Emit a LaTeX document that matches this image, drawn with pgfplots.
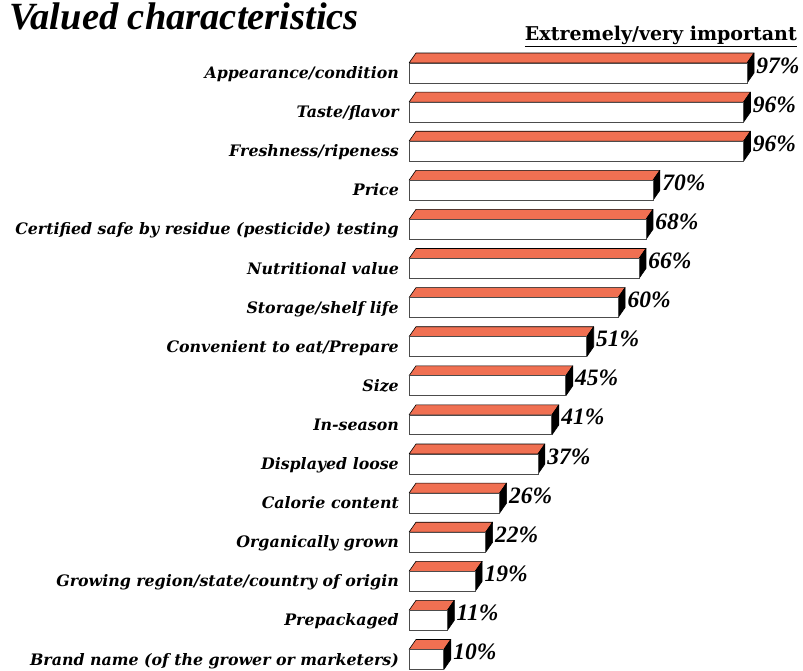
\documentclass[border=0pt]{standalone}
\usepackage{fontspec}
\setmainfont{Liberation Serif}
\newfontfamily\dvs{DejaVu Serif}
\usepackage{pgfplots}
\pgfplotsset{compat=1.18}
\usepackage{pgfplotstable}
\definecolor{topc}{RGB}{240,112,82}

\pgfplotstableread{
idx v
0 97
1 96
2 96
3 70
4 68
5 66
6 60
7 51
8 45
9 41
10 37
11 26
12 22
13 19
14 11
15 10
}\datatable

\newcommand\dx{2.0}
\newcommand\dy{0.256}
\newcommand\hh{0.255}

\begin{document}
\begin{tikzpicture}
\path[use as bounding box] (0,0) rectangle (803pt,-671pt);
\node[anchor=north west, inner sep=0pt, font=\fontsize{38.5}{40}\selectfont\bfseries\itshape] at (9pt,-3pt) {Valued characteristics};
\node[anchor=base east, inner sep=0pt, font=\dvs\fontsize{19}{21}\selectfont\bfseries] at (797pt,-41pt) {\underline{Extremely/very important}};
\begin{axis}[
  at={(409pt,-73pt)}, anchor=north west,
  scale only axis, x=3.485pt, y=39.1pt, y dir=reverse,
  xmin=0, xmax=100, ymin=0, ymax=15, enlargelimits=false, clip=false,
  axis line style={draw=none}, xtick=\empty, ytick={0,...,15}, major tick length=0pt,
  yticklabels={Appearance/condition, Taste/flavor, Freshness/ripeness, Price,
    Certified safe by residue (pesticide) testing, Nutritional value,
    Storage/shelf life, Convenient to eat/Prepare, Size, In-season,
    Displayed loose, Calorie content, Organically grown,
    Growing region/state/country of origin, Prepackaged,
    Brand name (of the grower or marketers)},
  yticklabel style={anchor=base east, inner sep=0pt, xshift=-10pt, yshift=-5.5pt,
    font=\dvs\fontsize{15.8}{18}\selectfont\bfseries\itshape},
]
\pgfplotsforeachungrouped \i in {0,...,15}{%
  \pgfplotstablegetelem{\i}{v}\of\datatable
  \pgfmathsetmacro\vv{\pgfplotsretval}%
  \pgfmathsetmacro\vd{\pgfplotsretval+\dx}%
  \pgfmathsetmacro\ya{\i-\hh}%
  \pgfmathsetmacro\yb{\i-\hh-\dy}%
  \pgfmathsetmacro\yc{\i+\hh}%
  \pgfmathsetmacro\yd{\i+\hh-\dy}%
  \edef\tmp{\noexpand\addplot[fill=topc, draw=black, line width=0.6pt, line join=round] coordinates {(0,\ya) (\vv,\ya) (\vd,\yb) (\dx,\yb) (0,\ya)};
  \noexpand\addplot[fill=black, draw=black, line width=0.6pt, line join=round] coordinates {(\vv,\yc) (\vv,\ya) (\vd,\yb) (\vd,\yd) (\vv,\yc)};}%
  \tmp
}
\addplot[xbar, bar width=0.51, fill=white, draw=black!70, line width=0.8pt,
  nodes near coords={\pgfplotspointmeta\%}, point meta=explicit symbolic,
  every node near coord/.append style={anchor=base west, xshift=9pt, inner sep=0pt,
    font=\fontsize{23.5}{25}\selectfont\bfseries\itshape, text=black}]
  table[x=v, y=idx, meta=v] {\datatable};
\end{axis}
\end{tikzpicture}
\end{document}
